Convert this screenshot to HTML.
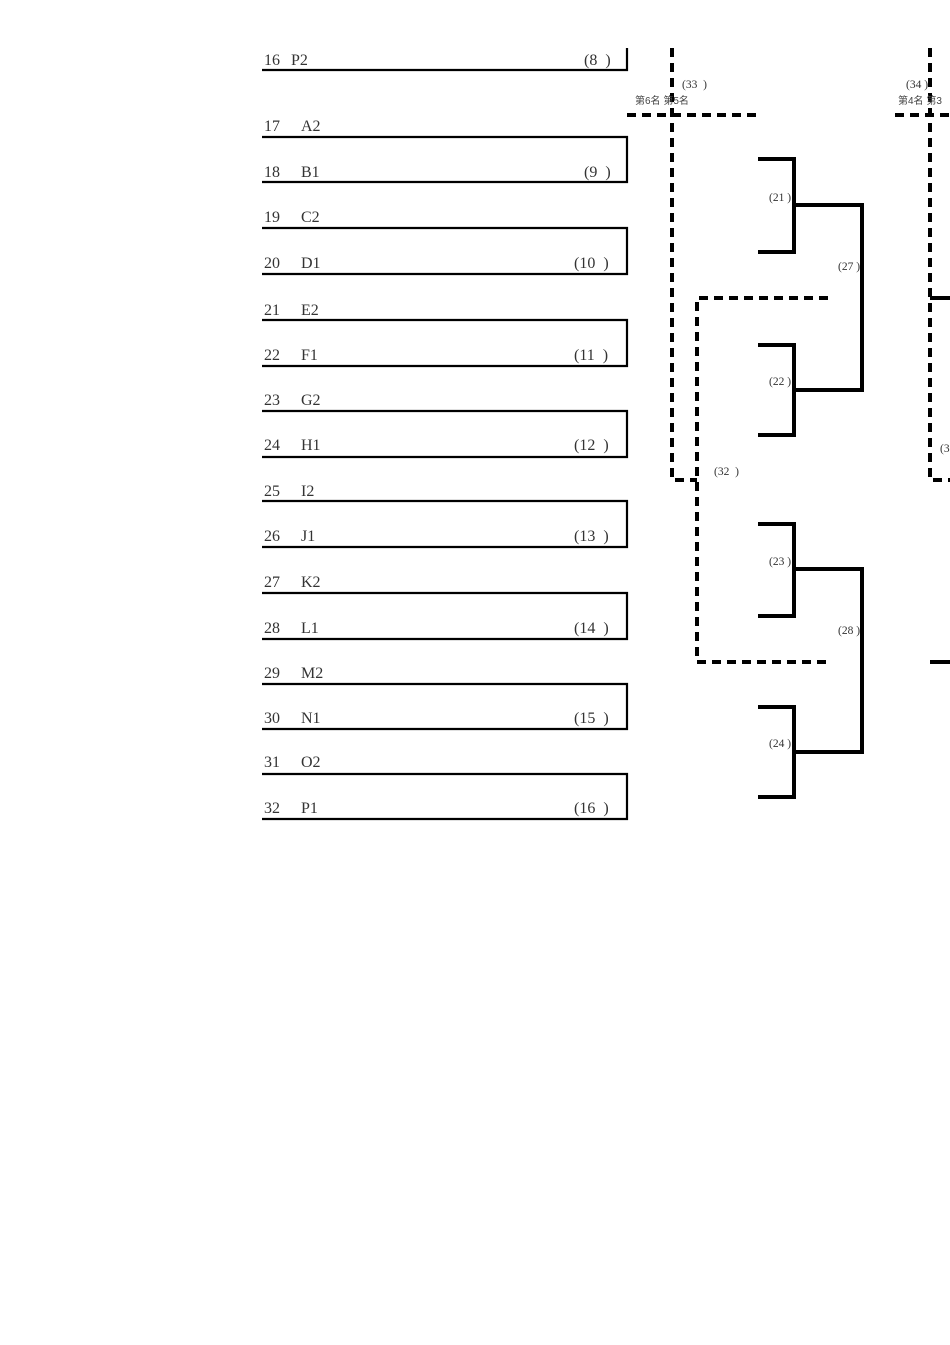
<!DOCTYPE html>
<html><head><meta charset="utf-8"><style>
html,body{margin:0;padding:0;background:#fff;width:950px;height:1345px;overflow:hidden}
svg{display:block}
text{font-family:"Liberation Serif","Noto Serif CJK SC",serif;fill:#333}
.n{font-size:16px}
.s{font-size:11.5px;fill:#555}
.c{font-family:"Liberation Sans","Noto Sans CJK SC",sans-serif;font-size:10px;fill:#444}
</style></head><body>
<svg width="950" height="1345" viewBox="0 0 950 1345" xmlns="http://www.w3.org/2000/svg">
<g stroke="#000" stroke-width="2.2" fill="none">
<path d="M262 70H627V48"/>
<path d="M262 137H627V182H262"/>
<path d="M262 228H627V274H262"/>
<path d="M262 320H627V366H262"/>
<path d="M262 411H627V457H262"/>
<path d="M262 501H627V547H262"/>
<path d="M262 593H627V639H262"/>
<path d="M262 684H627V729H262"/>
<path d="M262 774H627V819H262"/>
</g>
<g class="n">
<text x="264" y="65">16</text><text x="291" y="65">P2</text><text x="584" y="65">(8 &#160;)</text>
<text x="264" y="131">17</text><text x="301" y="131">A2</text>
<text x="264" y="177">18</text><text x="301" y="177">B1</text><text x="584" y="177">(9 &#160;)</text>
<text x="264" y="268">20</text><text x="301" y="268">D1</text><text x="574" y="268">(10 &#160;)</text>
<text x="264" y="222">19</text><text x="301" y="222">C2</text>
<text x="264" y="315">21</text><text x="301" y="315">E2</text>
<text x="264" y="360">22</text><text x="301" y="360">F1</text><text x="574" y="360">(11 &#160;)</text>
<text x="264" y="405">23</text><text x="301" y="405">G2</text>
<text x="264" y="450">24</text><text x="301" y="450">H1</text><text x="574" y="450">(12 &#160;)</text>
<text x="264" y="496">25</text><text x="301" y="496">I2</text>
<text x="264" y="541">26</text><text x="301" y="541">J1</text><text x="574" y="541">(13 &#160;)</text>
<text x="264" y="587">27</text><text x="301" y="587">K2</text>
<text x="264" y="633">28</text><text x="301" y="633">L1</text><text x="574" y="633">(14 &#160;)</text>
<text x="264" y="678">29</text><text x="301" y="678">M2</text>
<text x="264" y="723">30</text><text x="301" y="723">N1</text><text x="574" y="723">(15 &#160;)</text>
<text x="264" y="767">31</text><text x="301" y="767">O2</text>
<text x="264" y="813">32</text><text x="301" y="813">P1</text><text x="574" y="813">(16 &#160;)</text>
</g>
<g stroke="#000" stroke-width="4" fill="none" stroke-dasharray="9 6">
<path d="M672 48V480H697"/>
<path d="M627 115H758"/>
<path d="M828 298H697V662H828"/>
<path d="M930 48V480H950"/>
<path d="M895 115H950"/>
</g>
<g stroke="#000" stroke-width="4" fill="none">
<path d="M930 298H950M930 662H950"/>
<path d="M758 159H794V252H758"/>
<path d="M758 345H794V435H758"/>
<path d="M758 524H794V616H758"/>
<path d="M758 707H794V797H758"/>
<path d="M794 205H862V390H794"/>
<path d="M794 569H862V752H794"/>
</g>
<g class="s">
<text x="682" y="88">(33 &#160;)</text>
<text x="906" y="88">(34 )</text>
<text x="769" y="201">(21 )</text>
<text x="838" y="270">(27 )</text>
<text x="769" y="385">(22 )</text>
<text x="714" y="475">(32 &#160;)</text>
<text x="940" y="452">(3</text>
<text x="769" y="565">(23 )</text>
<text x="838" y="634">(28 )</text>
<text x="769" y="747">(24 )</text>
</g>
<text class="c" x="635" y="104">第6名 第5名</text>
<text class="c" x="898" y="104">第4名 第3</text>
</svg>
</body></html>
